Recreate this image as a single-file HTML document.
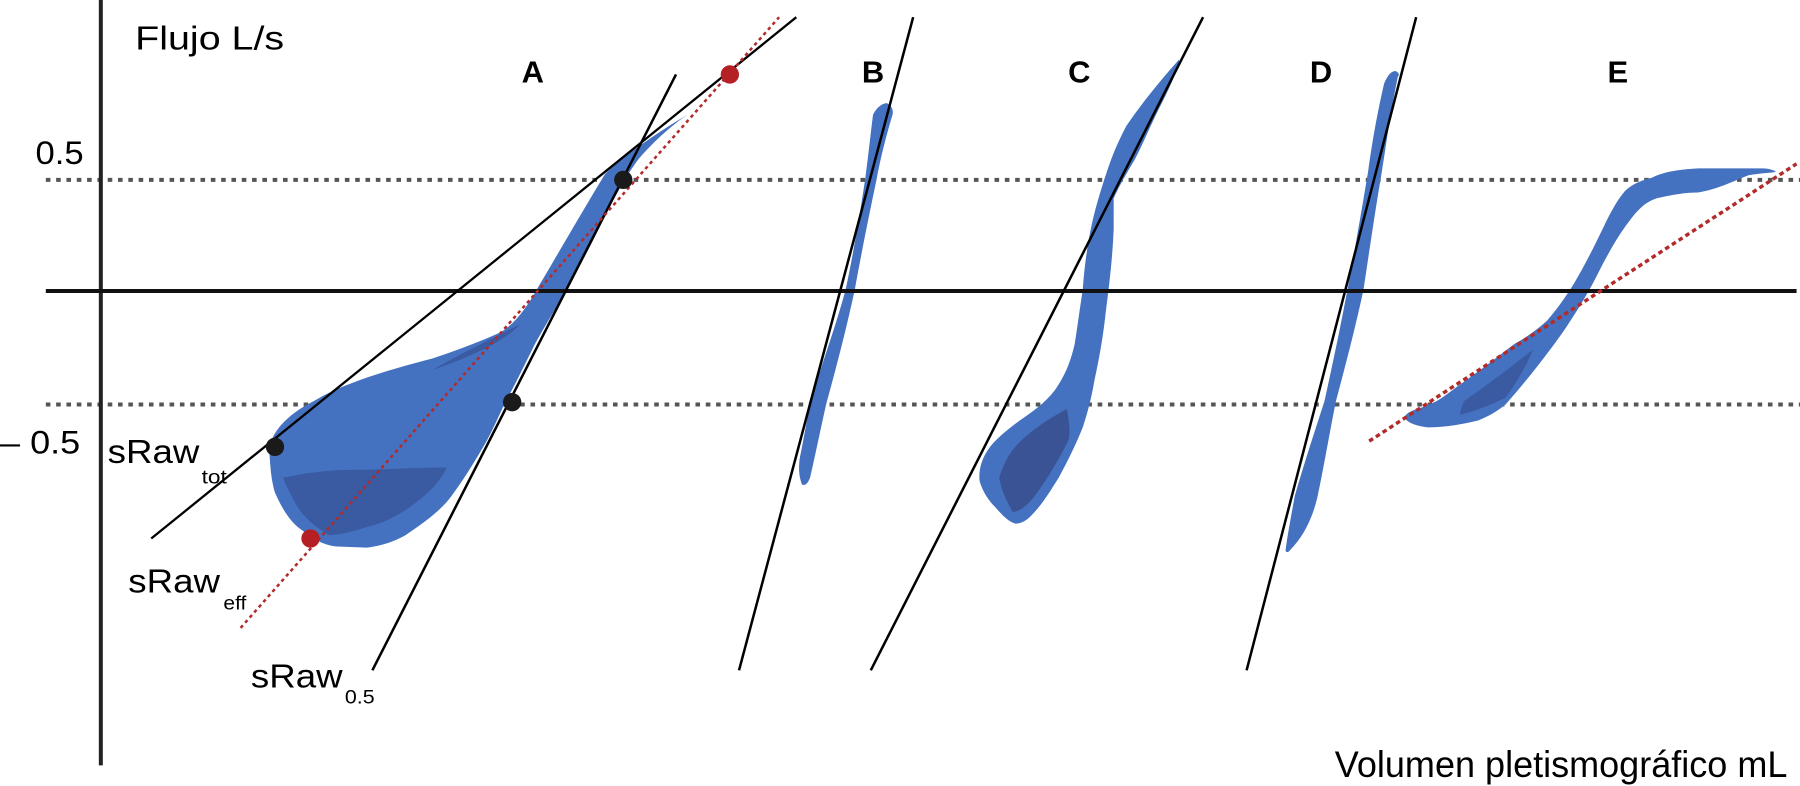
<!DOCTYPE html>
<html><head><meta charset="utf-8"><style>
html,body{margin:0;padding:0;background:#fff;}
svg{display:block;}
text{font-family:"Liberation Sans",sans-serif;fill:#000;}
</style></head><body>
<svg width="1800" height="786" viewBox="0 0 1571 686" preserveAspectRatio="none" xmlns="http://www.w3.org/2000/svg">
<line x1="40" y1="157" x2="1571" y2="157" stroke="#555" stroke-width="3.5" stroke-dasharray="4 5"/>
<line x1="40" y1="353" x2="1571" y2="353" stroke="#555" stroke-width="3.5" stroke-dasharray="4 5"/>

<path d="M600,100 C575,115 545,135 528,152 C505,190 485,225 470,250 C460,268 450,282 437,290 C415,300 395,307 377,313 C330,325 295,337 274,350 C250,362 236,378 235,393 C236,410 237,420 240,430 C248,448 255,457 264,463 C275,472 284,476 294,477 L320,478 C335,476 345,472 354,467 C372,455 385,445 394,433 C405,418 413,405 420,393 C428,380 434,366 440,353 C450,335 458,318 467,300 C477,282 486,268 494,253 C505,235 515,215 524,197 C535,175 545,155 558,138 C572,122 588,108 600,100 Z" fill="#4472c0"/>
<path d="M247,417 C280,410 300,410 320,410 C350,409 370,408 390,408 C385,418 378,426 370,433 C355,446 338,456 320,460 C305,465 295,467 287,467 C275,460 266,452 260,443 C255,434 250,425 247,417 Z" fill="#3a5aa2"/>
<path d="M377,323 C400,310 430,295 454,283 C440,298 410,312 377,323 Z" fill="#3a5aa2"/>

<path d="M774,90 C778,92 780,96 779,100 C773,120 768,140 765,157 C758,190 752,220 746,253 C738,290 730,320 721,353 C715,380 711,400 707,417 C705,422 703,424 700,423 C697,415 697,408 698,400 C701,385 704,368 707,353 C716,320 728,290 738,253 C745,220 750,190 755,157 C758,135 760,115 762,100 C765,94 770,90 774,90 Z" fill="#4472c0"/>

<path d="M1029,52 C1020,62 1000,85 983,110 C975,125 970,138 966,150 C960,168 955,185 952,200 C948,220 946,238 945,253 C942,272 940,288 938,300 C934,318 928,330 921,340 C912,352 900,360 890,367 C878,376 868,384 862,393 C856,402 854,412 855,420 C858,430 863,437 869,443 C875,450 880,455 886,457 C892,457 896,454 900,450 C910,440 917,428 924,417 C932,402 939,388 945,373 C950,358 953,345 955,333 C960,310 963,292 965,273 C968,250 971,225 972,200 L972,173 C978,160 984,150 990,140 C998,125 1006,105 1014,90 C1021,76 1026,65 1029,55 Z" fill="#4472c0"/>
<path d="M931,357 C933,367 934,375 933,383 C925,400 914,418 903,433 C896,442 890,446 884,447 C878,437 874,427 872,417 C876,405 880,397 886,390 C895,380 905,373 914,367 C920,363 926,360 931,357 Z" fill="#3a5394"/>

<path d="M1218,62 C1222,64 1221,66 1220,67 C1214,95 1210,125 1206,150 C1200,185 1195,220 1190,253 C1182,290 1174,320 1166,350 C1160,380 1155,410 1150,433 C1145,455 1136,470 1126,480 C1124,483 1122,482 1122,480 C1124,465 1127,450 1130,433 C1138,405 1147,378 1156,350 C1163,318 1170,285 1176,253 C1183,215 1189,180 1194,150 C1198,120 1203,95 1208,73 C1211,66 1214,62 1218,62 Z" fill="#4472c0"/>

<path d="M1226,365 C1230,370 1238,372 1246,373 C1262,373 1278,370 1290,367 C1300,363 1308,358 1314,353 C1330,335 1350,310 1366,287 C1376,272 1386,256 1394,240 C1403,222 1412,206 1422,193 C1430,182 1437,176 1446,173 C1460,170 1470,168 1482,168 C1500,165 1513,158 1526,153 C1537,151 1545,151 1550,150 C1546,147 1540,147 1534,147 L1482,147 C1465,148 1452,150 1442,155 C1430,158 1423,162 1418,167 C1412,174 1407,183 1402,193 C1393,212 1384,230 1374,247 C1366,260 1358,271 1350,280 C1340,289 1331,295 1322,300 C1305,313 1292,323 1278,333 C1268,340 1261,346 1254,350 C1246,354 1240,356 1234,358 C1229,360 1226,362 1226,365 Z" fill="#4472c0"/>
<path d="M1338,305 C1332,320 1323,335 1314,347 C1300,354 1287,359 1274,362 C1275,358 1276,354 1278,350 C1295,338 1317,322 1338,305 Z" fill="#3a5aa2"/>

<line x1="88" y1="0" x2="88" y2="668" stroke="#222" stroke-width="3.5"/>
<line x1="40" y1="254" x2="1568" y2="254" stroke="#111" stroke-width="3.5"/>

<line x1="132" y1="470" x2="695" y2="15" stroke="#000" stroke-width="2"/>
<line x1="325" y1="585" x2="590" y2="65" stroke="#000" stroke-width="2.2"/>
<line x1="210" y1="548" x2="680" y2="15" stroke="#b22a2a" stroke-width="2.2" stroke-dasharray="3 3"/>
<line x1="645" y1="585" x2="797" y2="15" stroke="#000" stroke-width="2.2"/>
<line x1="760" y1="585" x2="1050" y2="15" stroke="#000" stroke-width="2.2"/>
<line x1="1088" y1="585" x2="1236" y2="15" stroke="#000" stroke-width="2.2"/>
<line x1="1195" y1="385" x2="1568" y2="143" stroke="#b22a2a" stroke-width="3" stroke-dasharray="4 3"/>

<circle cx="637" cy="65" r="8" fill="#b52025"/>
<circle cx="271" cy="470" r="8" fill="#b52025"/>
<circle cx="544" cy="157" r="8" fill="#1a1a1a"/>
<circle cx="447" cy="351" r="8" fill="#1a1a1a"/>
<circle cx="240" cy="390" r="8" fill="#1a1a1a"/>

<text x="118" y="43" font-size="29" textLength="130" lengthAdjust="spacingAndGlyphs">Flujo L/s</text>
<text x="31" y="143" font-size="28" textLength="42" lengthAdjust="spacingAndGlyphs">0.5</text>
<text x="0" y="396" font-size="28" textLength="70" lengthAdjust="spacingAndGlyphs">– 0.5</text>
<g font-weight="bold" font-size="27">
<text x="465" y="72" text-anchor="middle">A</text>
<text x="762" y="72" text-anchor="middle">B</text>
<text x="942" y="72" text-anchor="middle">C</text>
<text x="1153" y="72" text-anchor="middle">D</text>
<text x="1412" y="72" text-anchor="middle">E</text>
</g>
<text x="94" y="404" font-size="29" textLength="80" lengthAdjust="spacingAndGlyphs">sRaw</text>
<text x="176" y="422" font-size="17" textLength="22" lengthAdjust="spacingAndGlyphs">tot</text>
<text x="112" y="517" font-size="29" textLength="80" lengthAdjust="spacingAndGlyphs">sRaw</text>
<text x="195" y="532" font-size="17" textLength="20" lengthAdjust="spacingAndGlyphs">eff</text>
<text x="219" y="600" font-size="29" textLength="80" lengthAdjust="spacingAndGlyphs">sRaw</text>
<text x="301" y="614" font-size="17" textLength="26" lengthAdjust="spacingAndGlyphs">0.5</text>
<text x="1165" y="678" font-size="32" textLength="395" lengthAdjust="spacingAndGlyphs">Volumen pletismográfico mL</text>
</svg>
</body></html>
